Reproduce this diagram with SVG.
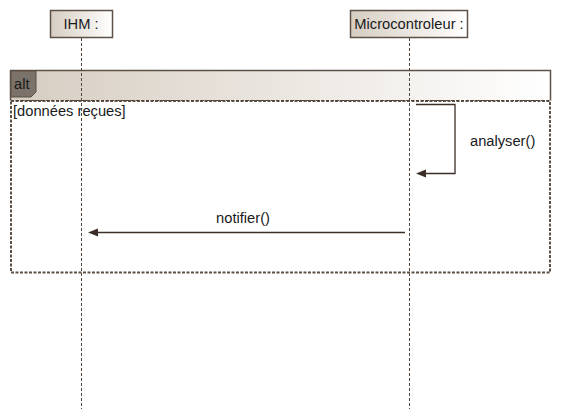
<svg xmlns="http://www.w3.org/2000/svg" width="561" height="420" viewBox="0 0 561 420">
<defs>
<linearGradient id="g" x1="0" y1="0" x2="1" y2="0">
<stop offset="0" stop-color="#d6cdc1"/>
<stop offset="1" stop-color="#ffffff"/>
</linearGradient>
<style>
.box{fill:url(#g);stroke:#5c5047;stroke-width:1.5}
.life{stroke:#4f433a;stroke-width:1;stroke-dasharray:3,2;fill:none}
.t{font-family:"Liberation Sans",Arial,sans-serif;font-size:14.7px;fill:#1a1a1a}
.msg{stroke:#3a2e26;stroke-width:1.3;fill:none}
.head{fill:#3a2e26}
</style>
</defs>
<g id="fragment">
<rect x="10.5" y="70.5" width="540" height="30" fill="url(#g)" stroke="none"/>
<path d="M10.5,100.5 V70.5 H550.5 V100.5" fill="none" stroke="#5c5047" stroke-width="1.5"/>
<rect x="11" y="101" width="539" height="171.5" fill="none" stroke="#5c5047" stroke-width="2" stroke-dasharray="3,1.5"/>
<line x1="11" y1="100.5" x2="550" y2="100.5" stroke="#4f433a" stroke-width="1" stroke-dasharray="3,2"/>
<path d="M11,71 H36 V92 L31,97 H11 Z" fill="#7b7269" stroke="#5c5047" stroke-width="1"/>
<text class="t" x="14" y="89">alt</text>
<text class="t" x="13" y="116">[données reçues]</text>
</g>
<g id="IHM">
<rect class="box" x="50.5" y="10.5" width="62" height="27"/>
<text class="t" x="81" y="29" text-anchor="middle">IHM :</text>
<line class="life" x1="81.5" y1="38" x2="81.5" y2="409"/>
</g>
<g id="Microcontroleur">
<rect class="box" x="350.5" y="10.5" width="117" height="27"/>
<text class="t" x="409" y="29" text-anchor="middle">Microcontroleur :</text>
<line class="life" x1="409.5" y1="38" x2="409.5" y2="409"/>
</g>
<g id="connectors">
<path class="msg" d="M416,104.5 H455 V173.5 H425"/>
<path class="head" d="M416,173.5 L426,169.5 L426,177.5 Z"/>
<text class="t" x="470" y="146">analyser()</text>
<line class="msg" x1="405" y1="232.5" x2="97" y2="232.5"/>
<path class="head" d="M88,232.5 L98,228.5 L98,236.5 Z"/>
<text class="t" x="243" y="223" text-anchor="middle">notifier()</text>
</g>
</svg>
